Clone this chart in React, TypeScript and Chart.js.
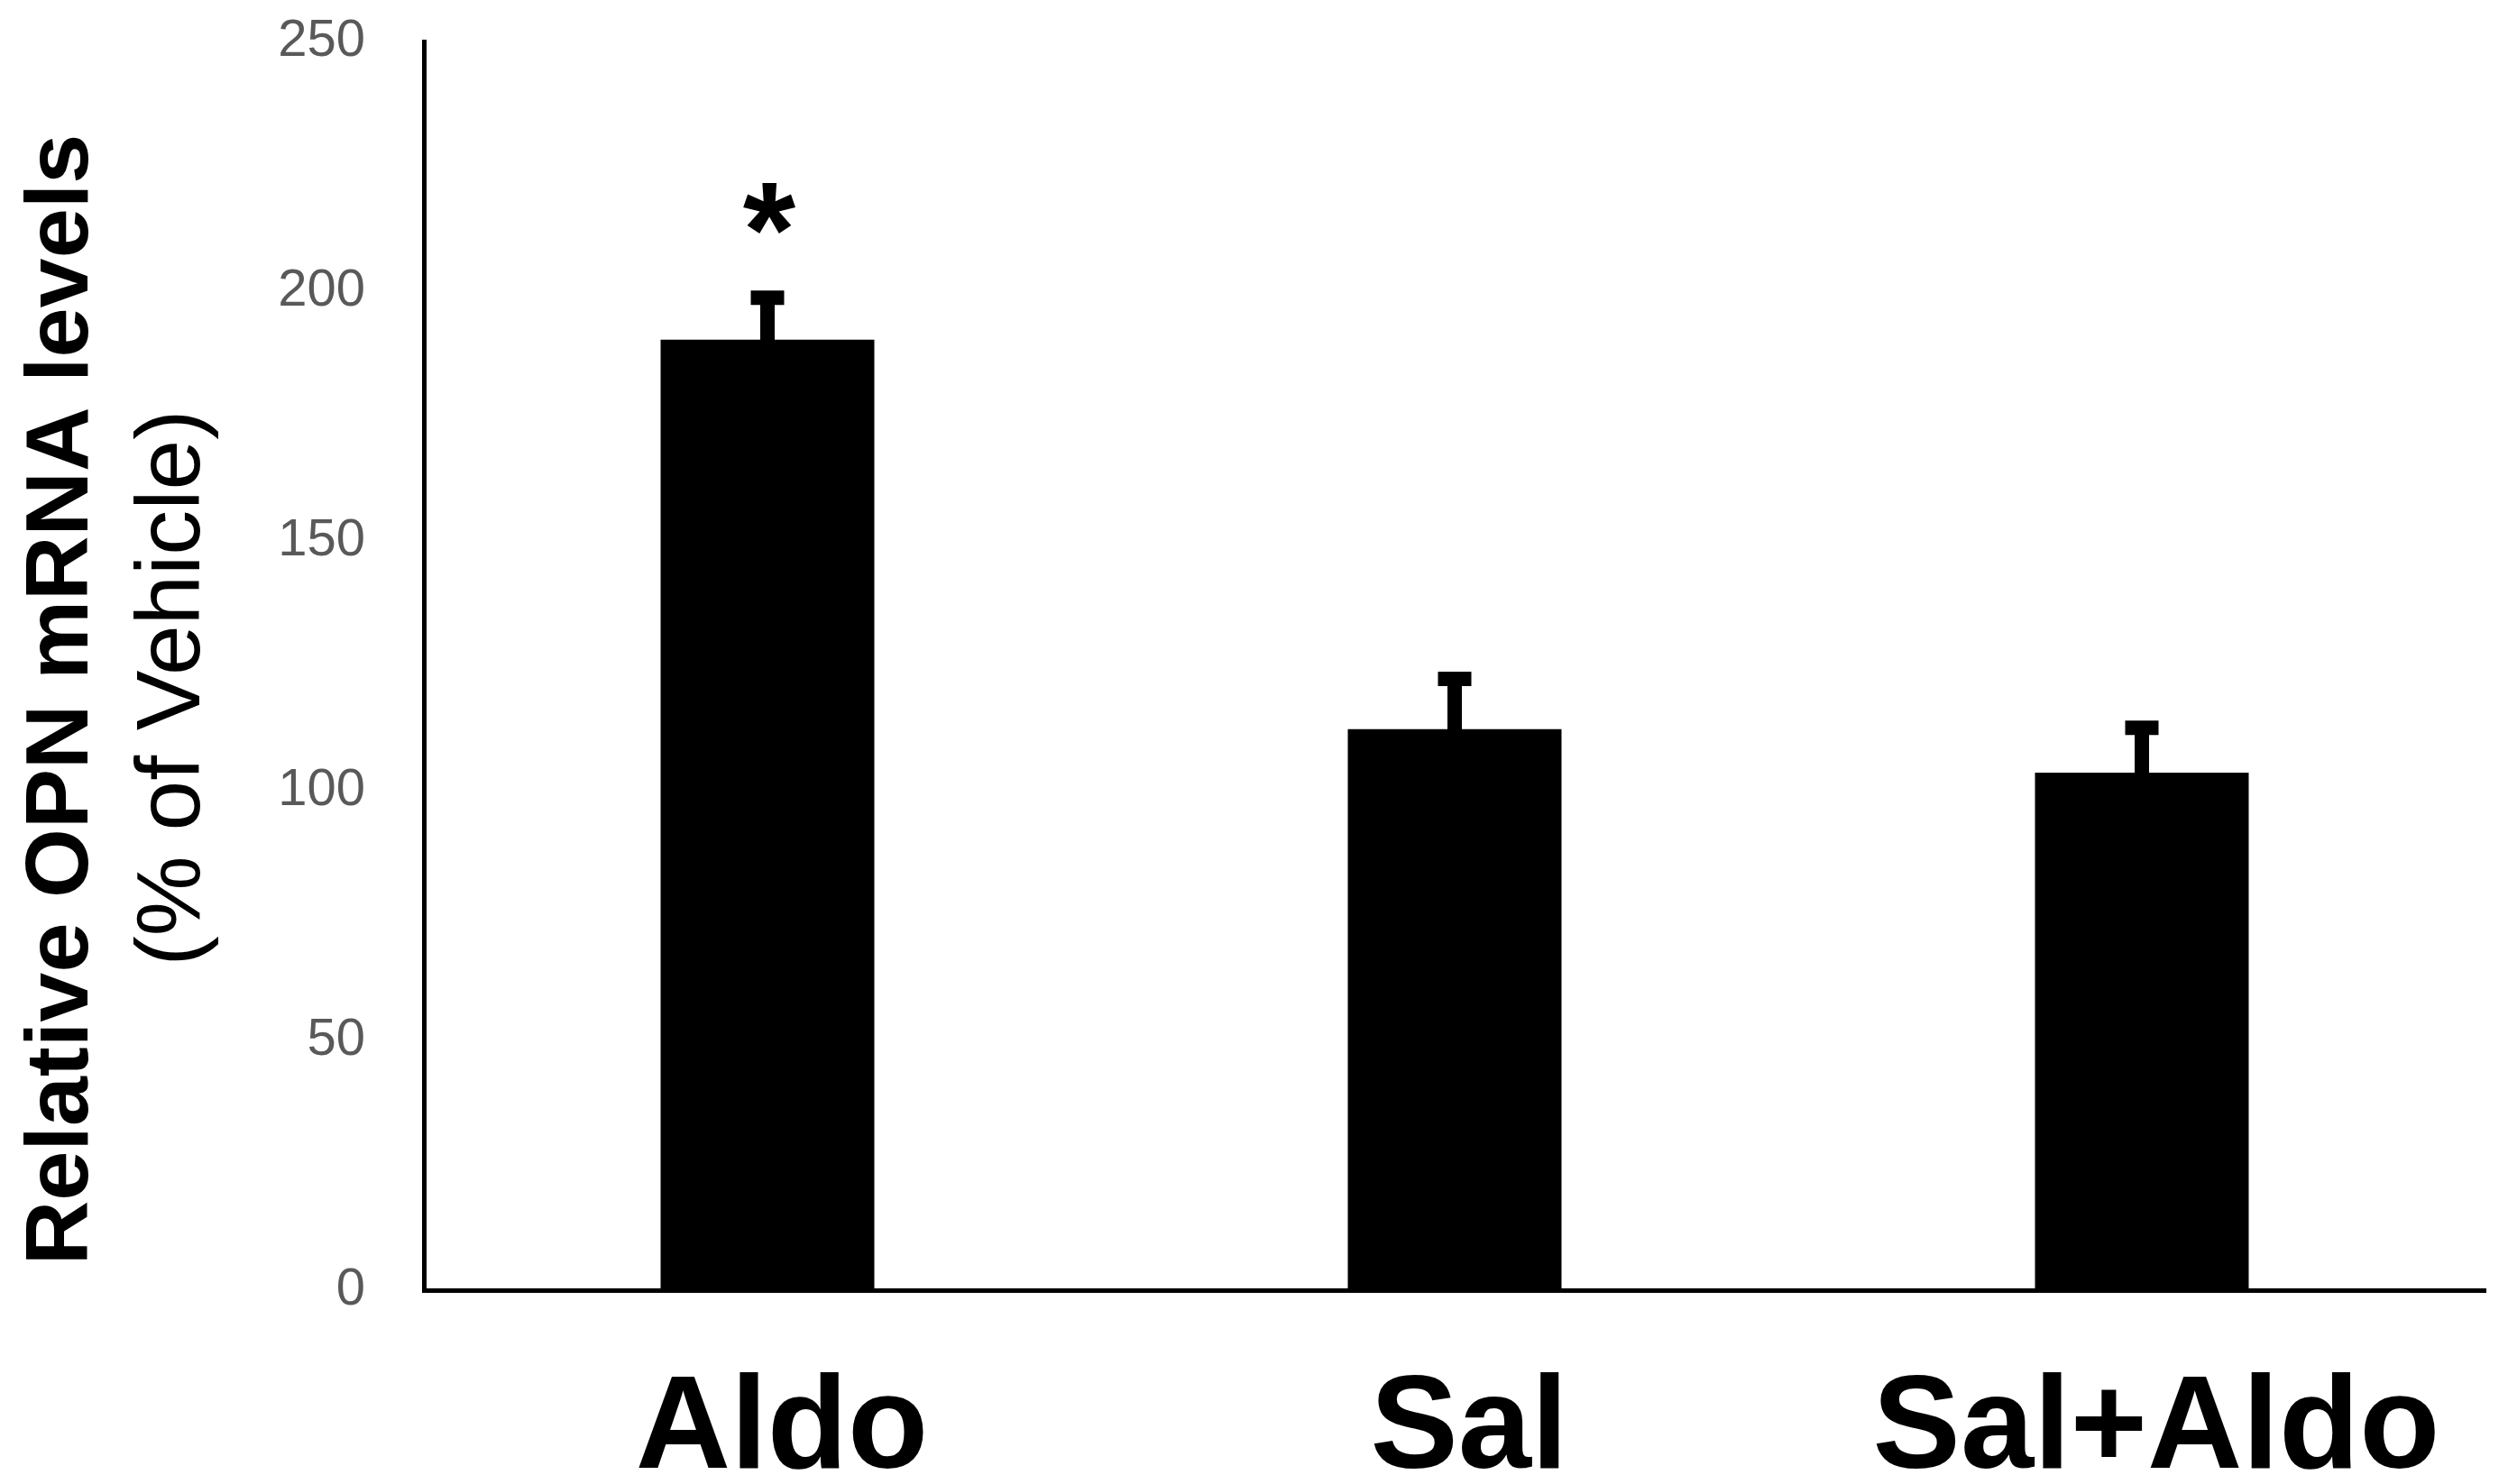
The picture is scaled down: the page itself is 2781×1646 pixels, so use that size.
import { useEffect, useRef } from 'react';
import { Chart, registerables } from 'chart.js';

Chart.register(...registerables);

const categories = ['Aldo', 'Sal', 'Sal+Aldo'];
const values = [190.3, 112.3, 103.6];
const errors = [8.4, 10.1, 9.0];
const significance = ['*', '', ''];
const yMin = 0;
const yMax = 250;
const yStep = 50;
const yTitle = 'Relative OPN mRNA levels';
const ySubtitle = '(% of Vehicle)';

const FONT = "'Liberation Sans', Arial, Helvetica, sans-serif";

const errorBarPlugin = {
  id: 'errorBars',
  afterDatasetsDraw(chart: any) {
    const ctx = chart.ctx;
    const meta = chart.getDatasetMeta(0);
    const yScale = chart.scales.y;
    ctx.save();
    ctx.strokeStyle = '#000';
    ctx.fillStyle = '#000';
    ctx.lineWidth = 16;
    ctx.lineCap = 'butt';
    meta.data.forEach((el: any, i: number) => {
      const x = el.x;
      const yTop = el.y;
      const yErr = yScale.getPixelForValue(values[i] + errors[i]);
      ctx.beginPath();
      ctx.moveTo(x, yTop + 2);
      ctx.lineTo(x, yErr);
      ctx.stroke();
      ctx.beginPath();
      ctx.moveTo(x - 18.5, yErr);
      ctx.lineTo(x + 18.5, yErr);
      ctx.stroke();
      const sig = significance[i];
      if (sig) {
        ctx.font = `bold 150px ${FONT}`;
        ctx.textAlign = 'center';
        ctx.textBaseline = 'alphabetic';
        const m = ctx.measureText(sig);
        const inkOffset = (m.actualBoundingBoxAscent - m.actualBoundingBoxDescent) / 2;
        const centerY = yErr - 99;
        ctx.fillText(sig, x + 2, centerY + inkOffset);
      }
    });
    ctx.restore();
  },
};

const axisTitlePlugin = {
  id: 'axisTitles',
  afterDraw(chart: any) {
    const ctx = chart.ctx;
    ctx.save();
    ctx.fillStyle = '#000';
    ctx.textAlign = 'center';
    ctx.textBaseline = 'alphabetic';
    ctx.save();
    ctx.translate(97, 776);
    ctx.rotate(-Math.PI / 2);
    ctx.font = `bold 99px ${FONT}`;
    ctx.fillText(yTitle, 0, 0);
    ctx.restore();
    ctx.save();
    ctx.translate(221, 763);
    ctx.rotate(-Math.PI / 2);
    ctx.font = `100px ${FONT}`;
    ctx.fillText(ySubtitle, 0, 0);
    ctx.restore();
    ctx.restore();
  },
};

export default function App() {
  const canvasRef = useRef<HTMLCanvasElement | null>(null);

  useEffect(() => {
    document.body.style.margin = '0';
    const canvas = canvasRef.current;
    if (!canvas) return;
    const chart = new Chart(canvas, {
      type: 'bar',
      data: {
        labels: categories,
        datasets: [
          {
            data: values,
            backgroundColor: '#000000',
            borderWidth: 0,
            categoryPercentage: 1,
            barPercentage: 0.311,
          },
        ],
      },
      options: {
        responsive: false,
        animation: false,
        devicePixelRatio: 1,
        layout: { padding: { top: 46, right: 25, left: 0, bottom: 0 } },
        plugins: {
          legend: { display: false },
          tooltip: { enabled: false },
          title: { display: false },
        },
        scales: {
          x: {
            grid: { display: false, drawTicks: false },
            border: { display: true, color: '#000', width: 5 },
            ticks: {
              color: '#000',
              padding: 69,
              labelOffset: 16,
              font: { family: FONT, size: 146, weight: 'bold' },
              maxRotation: 0,
              autoSkip: false,
            },
            afterFit: (s: any) => {
              s.height = 215;
              s.paddingLeft = 0;
              s.paddingRight = 0;
            },
          },
          y: {
            min: yMin,
            max: yMax,
            grid: { display: false, drawTicks: false },
            border: { display: true, color: '#000', width: 5 },
            ticks: {
              stepSize: yStep,
              color: '#595959',
              padding: 65,
              font: { family: FONT, size: 58 },
            },
            afterFit: (s: any) => {
              s.width = 470;
              s.paddingTop = 0;
              s.paddingBottom = 0;
            },
          },
        },
      } as any,
      plugins: [errorBarPlugin, axisTitlePlugin],
    });
    return () => {
      chart.destroy();
    };
  }, []);

  return (
    <div style={{ width: 2781, height: 1646, background: '#fff' }}>
      <canvas ref={canvasRef} width={2781} height={1646} />
    </div>
  );
}
